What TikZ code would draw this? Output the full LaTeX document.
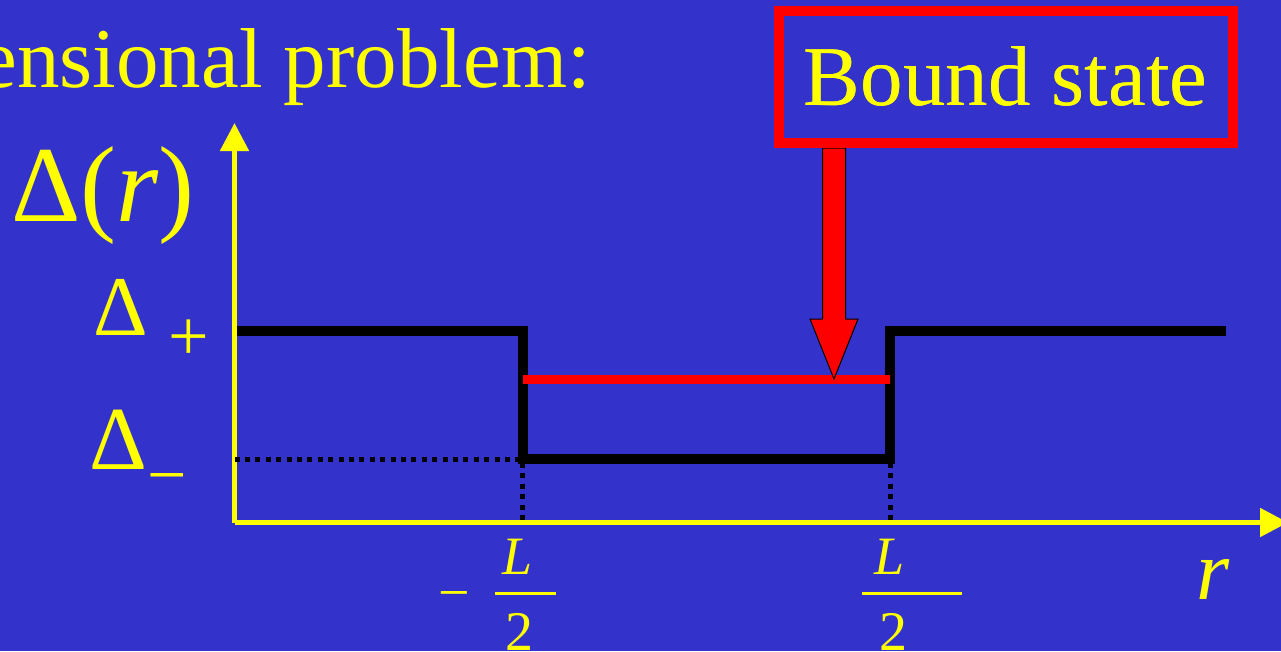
\documentclass[tikz,border=0pt]{standalone}
\usepackage{fontspec}
\setmainfont{Liberation Serif}
\usetikzlibrary{arrows.meta,calc}
\definecolor{SlideBlue}{RGB}{51,51,204}
\definecolor{SlideYellow}{RGB}{255,255,0}
\newcommand{\pxfont}[1]{\fontsize{#1}{#1}\selectfont}
\tikzset{
	axis/.style={SlideYellow, line width=5pt, -{Triangle[length=28pt,width=28pt]}},
	potential/.style={black, line width=10pt, line join=miter},
	guide/.style={black, line width=5pt, dash pattern=on 5pt off 5.4pt},
	boundlevel/.style={red, line width=9pt},
	blockarrow/.style={fill=red, draw=black, line width=1pt, line join=miter},
	callout/.style={
		draw=red, line width=10pt, inner sep=0pt,
		minimum width=454.5pt, minimum height=132.3pt,
		text=SlideYellow, font=\pxfont{85}
	},
	labeltext/.style={text=SlideYellow, inner sep=0pt, anchor=base},
	fracbar/.style={SlideYellow, line width=3pt},
}

\begin{document}
\begin{tikzpicture}[x=1pt,y=-1pt]
		\useasboundingbox (0,0) rectangle (1281,651);
		\fill[SlideBlue] (0,0) rectangle (1281,651);
		\clip (0,0) rectangle (1281,651);
		
		% axes
		\coordinate (o) at (234.5,522.5);
		\coordinate (ytip) at (234.5,123);
		\coordinate (xtip) at (1288,522.5);
		\draw[axis] (o) -- (ytip);
		\draw[axis] (o) -- (xtip);
		
		% well edges and levels
		\coordinate (wl) at (522.5,459);
		\coordinate (wr) at (890,459);
		\coordinate (hi) at (237,331);
		\coordinate (hiend) at (1226,331);
		
		% dotted guides
		\draw[guide] (o |- wl) -- (517.5,459);
		\draw[guide] ([yshift=-4pt]wl) -- (wl |- o);
		\draw[guide] ([yshift=-4pt]wr) -- (wr |- o);
		
		% potential step
		\draw[potential] (hi) -- (wl |- hi) -- (wl) -- (wr) -- (wr |- hi) -- (hiend);
		
		% bound state level
		\coordinate (tip) at (834,379);
		\draw[boundlevel] (wl |- tip) -- (wr |- tip);
		
		% callout box and its arrow
		\node[callout] (bound) at (1005.75,76.85) {Bound state};
		\coordinate (hb) at ($(tip)+(0,-60)$);
		\coordinate (sl) at ($(tip)+(-11.5,0)$);
		\coordinate (sr) at ($(tip)+(11.5,0)$);
		\filldraw[blockarrow] (tip) -- ($(hb)+(-24,0)$) -- (sl |- hb) -- (sl |- bound.south)
			-- (sr |- bound.south) -- (sr |- hb) -- ($(hb)+(24,0)$) -- cycle;
		\node[callout, fill=none] at (bound) {Bound state};
		
		% labels
		\node[labeltext, anchor=base east] (title) at (591,87) {\pxfont{85}ensional problem:};
		\node[labeltext, anchor=base west] (dr) at (11,221) {\pxfont{108}Δ(\textit{r})};
		\node[labeltext, anchor=base west] (dplus) at (93,335) {\pxfont{85}Δ};
		\node[labeltext] (plus) at (189,360) {\pxfont{72}+};
		\node[labeltext, anchor=base west] (dminus) at (89,469) {\pxfont{90}Δ};
		\node[labeltext] (minus) at (167,498) {\pxfont{70}−};
		
		\node[labeltext] (negsign) at (454,611) {\pxfont{56}−};
		\node[labeltext] (lnum) at (518,574) {\pxfont{54}\textit{L}};
		\node[labeltext] (lden) at (519,650) {\pxfont{56}2};
		\draw[fracbar] (495,593) -- (556,593);
		
		\node[labeltext] (rnum) at (890,574) {\pxfont{54}\textit{L}};
		\node[labeltext] (rden) at (893,650) {\pxfont{56}2};
		\draw[fracbar] (862,593) -- (962,593);
		
		\node[labeltext, anchor=base west] (rlab) at (1196,599) {\pxfont{85}\textit{r}};
	\end{tikzpicture}
\end{document}
